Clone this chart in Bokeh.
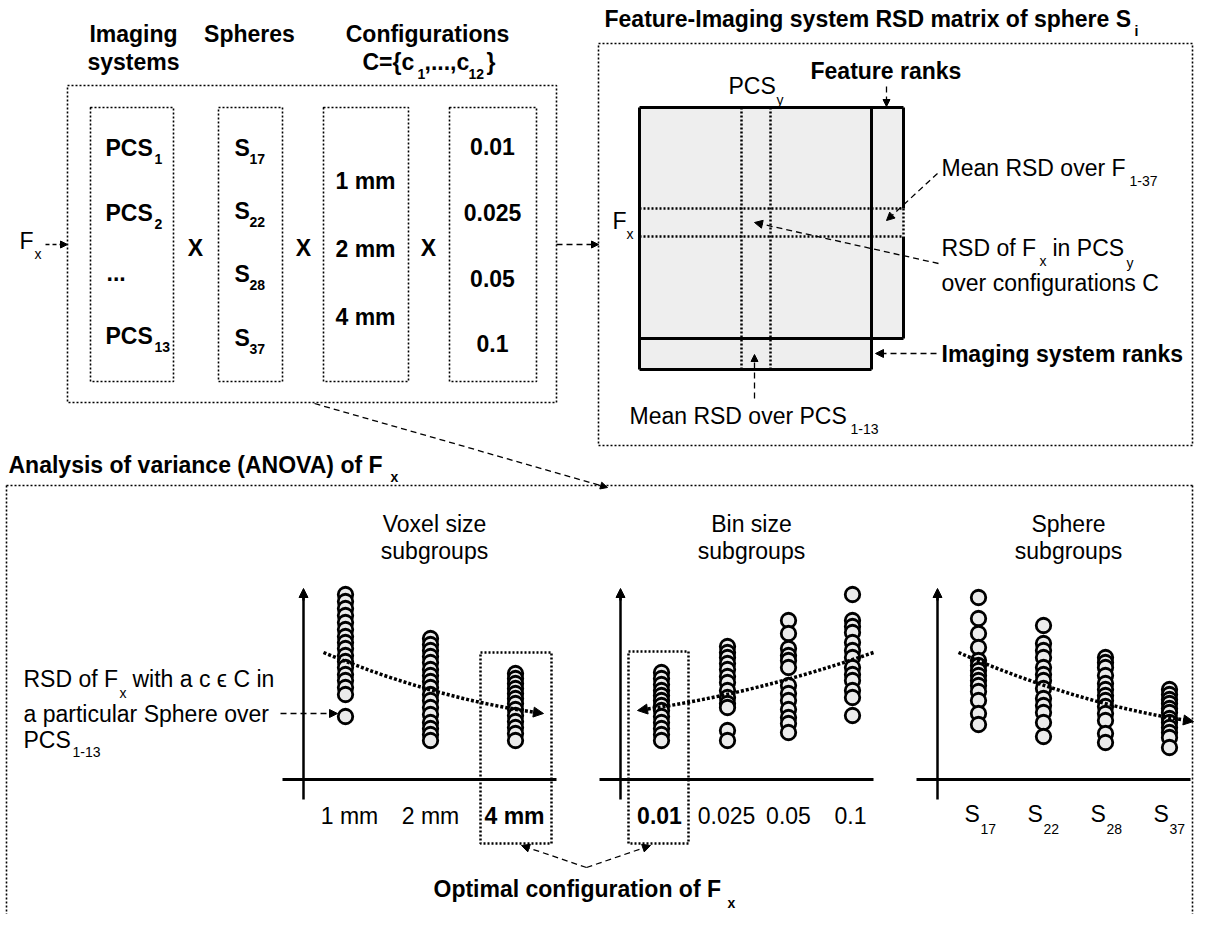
from bokeh.plotting import figure
from bokeh.models import Range1d, Arrow, NormalHead
from bokeh.core.properties import value
from bokeh.embed import file_html
from bokeh.resources import INLINE

# ---------------- data (RSD values, arbitrary % units) ----------------
voxel_labels = ["1 mm", "2 mm", "4 mm"]
voxel_1mm = [18.5, 17.8, 17.1, 16.4, 15.7, 15.0, 14.3, 13.7, 13.1, 12.4, 11.8, 11.2, 10.5, 9.9, 9.2, 8.5, 6.3]
voxel_2mm = [14.1, 13.5, 12.9, 12.3, 11.7, 11.0, 10.4, 9.8, 9.2, 8.5, 7.9, 7.2, 6.5, 5.7, 5.1, 4.5, 3.9]
voxel_4mm = [10.6, 10.1, 9.6, 9.1, 8.6, 8.1, 7.6, 7.0, 6.4, 5.8, 5.2, 4.6, 3.9]

bin_labels = ["0.01", "0.025", "0.05", "0.1"]
bin_001 = [10.7, 10.1, 9.5, 8.9, 8.4, 7.9, 7.4, 6.9, 6.3, 5.7, 5.1, 4.5, 3.9]
bin_0025 = [13.3, 12.7, 12.2, 11.6, 11.0, 10.3, 9.7, 8.9, 8.2, 7.6, 7.2, 4.9, 3.9]
bin_005 = [15.9, 14.6, 13.1, 12.4, 11.9, 11.2, 9.4, 8.6, 7.9, 7.0, 6.2, 5.6, 4.7]
bin_01 = [18.5, 15.9, 15.3, 14.7, 13.7, 12.9, 12.2, 11.2, 10.5, 9.9, 8.9, 8.2, 6.4]

sphere_labels = ["17", "22", "28", "37"]
sphere_17 = [18.2, 16.1, 14.6, 13.2, 11.9, 11.4, 10.9, 10.4, 9.9, 9.4, 8.8, 7.9, 6.6, 5.5]
sphere_22 = [15.4, 13.6, 12.9, 12.2, 11.2, 10.5, 9.9, 9.1, 8.1, 7.4, 6.7, 5.7, 4.3]
sphere_28 = [12.2, 11.7, 11.2, 10.4, 9.6, 9.0, 8.4, 7.9, 7.3, 6.6, 5.9, 4.6, 3.7]
sphere_37 = [9.0, 8.5, 8.0, 7.6, 7.1, 6.7, 6.1, 5.7, 5.2, 4.7, 4.2, 3.2]

pcs_labels = ["1", "2", "13"]
config_bins = ["0.01", "0.025", "0.05", "0.1"]
config_voxels = ["1 mm", "2 mm", "4 mm"]

# ---------------- canvas ----------------
FONT = value("Liberation Sans")
W, H = 1194, 914
p = figure(width=W, height=H, x_range=Range1d(0, W), y_range=Range1d(H, 0),
           output_backend="svg", toolbar_location=None, min_border=0,
           x_axis_location=None, y_axis_location=None)
p.grid.visible = False
p.outline_line_color = None
BASE = 779.0  # baseline of scatter panels (canvas units)
p.extra_y_ranges = {"rsd": Range1d(start=(BASE - H) / 10.0, end=BASE / 10.0)}

FS = 23   # main text size
SS = 14   # subscript size
RIGHT = 1192  # right border of the dashed frames


def T(x, y, s, size=FS, bold=False, align="left"):
    p.text(x=[x], y=[y], text=[s], text_font=FONT, text_font_size=f"{size}px",
           text_font_style="bold" if bold else "normal", text_align=align,
           text_baseline="middle", text_color="black")


def box(l, r, t, b, dash="2 2", w=1.6):
    p.quad(left=[l], right=[r], top=[t], bottom=[b], fill_color=None,
           line_color="black", line_dash=dash, line_width=w)


def seg(x0, y0, x1, y1, dash="solid", w=1.5):
    p.line(x=[x0, x1], y=[y0, y1], line_color="black", line_dash=dash, line_width=w)


def arrow(x0, y0, x1, y1, dash="6 4", w=1.3, size=9):
    p.add_layout(Arrow(end=NormalHead(size=size, fill_color="black", line_color="black", line_width=1),
                       x_start=x0, y_start=y0, x_end=x1, y_end=y1,
                       line_dash=dash, line_width=w, line_color="black"))


# ---------------- top-left: factors ----------------
T(133, 33, "Imaging", FS, True, "center")
T(133, 61, "systems", FS, True, "center")
T(249, 33, "Spheres", FS, True, "center")
T(427, 33, "Configurations", FS, True, "center")
T(362, 61, "C={c", FS, True)
T(417, 73, "1", SS, True)
T(424, 61, ",...,c", FS, True)
T(468, 73, "12", SS, True)
T(486, 61, "}", FS, True)

box(67, 556, 85, 402)
box(90, 173, 107, 381)
box(218, 282, 107, 381)
box(323, 408, 107, 381)
box(449, 536, 107, 381)

pcs_y = [147, 212, 335]
for lab, y in zip(pcs_labels, pcs_y):
    T(105, y, "PCS", FS, True)
    T(154, y + 11, lab, SS, True)
T(106, 272, "...", FS, True)

sph_y = [147, 210, 273, 337]
for lab, y in zip(sphere_labels, sph_y):
    T(234, y, "S", FS, True)
    T(249, y + 11, lab, SS, True)

for lab, y in zip(config_voxels, [180, 248, 316]):
    T(365, y, lab, FS, True, "center")
for lab, y in zip(config_bins, [146, 212, 278, 343]):
    T(492, y, lab, FS, True, "center")

for x in [195, 303, 428]:
    T(x, 247, "X", FS, True, "center")

T(19, 240, "F", FS)
T(34, 253, "x", SS)
arrow(45, 244, 67, 244, dash="4 3", size=7)
arrow(556, 244, 598, 244, size=7)
arrow(314, 403, 607, 487, size=7)

# ---------------- top-right: matrix ----------------
T(604, 18, "Feature-Imaging system RSD matrix of sphere S", FS, True)
T(1134, 30, "i", SS, True)
box(598, RIGHT, 43, 445)

GRAY = "#eeeeee"
p.quad(left=[639], right=[871], top=[107], bottom=[338], fill_color=GRAY, line_color=None)
p.quad(left=[871], right=[903], top=[107], bottom=[338], fill_color=GRAY, line_color=None)
p.quad(left=[639], right=[871], top=[338], bottom=[369], fill_color=GRAY, line_color=None)
# dotted guides
for x in [741, 770]:
    seg(x, 107, x, 370, dash="2 2", w=2.5)
for y in [208, 236]:
    seg(639, y, 903, y, dash="2 2", w=2.5)
seg(903, 208, 903, 236, dash="2 2", w=2.5)
# thick borders
TW = 3
seg(639, 107, 903, 107, w=TW)
seg(639, 107, 639, 369, w=TW)
seg(871, 107, 871, 369, w=TW)
seg(903, 107, 903, 208, w=TW)
seg(903, 236, 903, 338, w=TW)
seg(639, 338, 903, 338, w=TW)
seg(639, 369, 871, 369, w=TW)

T(728, 85, "PCS", FS)
T(776, 99, "y", SS)
T(810, 70, "Feature ranks", FS, True)
arrow(886, 86, 886, 106, size=7)
T(612, 220, "F", FS)
T(626, 233, "x", SS)

T(941, 167, "Mean RSD over F", FS)
T(1129, 180, "1-37", SS)
arrow(937, 173, 886, 220, size=8)

T(941, 247, "RSD of F", FS)
T(1039, 260, "x", SS)
T(1052, 247, "in PCS", FS)
T(1126, 262, "y", SS)
T(941, 282, "over configurations C", FS)
arrow(938, 263, 754, 222, size=8)

T(941, 353, "Imaging system ranks", FS, True)
arrow(936, 353, 875, 353, size=8)

T(629, 415, "Mean RSD over PCS", FS)
T(850, 428, "1-13", SS)
arrow(754, 398, 754, 354, size=7)

# ---------------- bottom: ANOVA ----------------
T(8, 464, "Analysis of variance (ANOVA) of F", FS, True)
T(390, 476, "x", SS, True)
seg(6, 485, RIGHT, 485, dash="2 2", w=1.6)
seg(6, 485, 6, H + 5, dash="2 2", w=1.6)
seg(RIGHT, 485, RIGHT, H + 5, dash="2 2", w=1.6)

for cx, l1 in [(434, "Voxel size"), (751, "Bin size"), (1068, "Sphere")]:
    T(cx, 523, l1, FS, False, "center")
    T(cx, 550, "subgroups", FS, False, "center")

# axes
for ax_x, x0, x1 in [(303, 282, 556), (620, 599, 873), (937, 916, 1190)]:
    seg(x0, BASE, x1, BASE, w=3)
    p.line(x=[ax_x, ax_x], y=[799, 596], line_color="black", line_width=2.5)
    p.add_layout(Arrow(end=NormalHead(size=9, fill_color="black", line_color="black"),
                       x_start=ax_x, y_start=600, x_end=ax_x, y_end=588,
                       line_width=2.5, line_color="black"))

# optimal boxes
box(480, 551, 652, 843, dash="2 2", w=2.5)
box(628, 688, 651, 843, dash="2 2", w=2.5)

# scatter columns
groups = [
    (345, voxel_1mm), (430, voxel_2mm), (515, voxel_4mm),
    (661, bin_001), (727, bin_0025), (788, bin_005), (852, bin_01),
    (978, sphere_17), (1043, sphere_22), (1105, sphere_28), (1169, sphere_37),
]
for x, vals in groups:
    p.scatter(x=[x] * len(vals), y=vals, y_range_name="rsd", size=14.5,
              fill_color="#ebebeb", line_color="black", line_width=2.8)

# trend curves (quadratic) with arrowheads
curves = [
    ((323, 652), (433, 697.5), (543, 713)),
    ((873, 652), (755, 693), (637, 710)),
    ((958, 652), (1076, 703), (1193, 721)),
]
for (x0, y0), (cx, cy), (x1, y1) in curves:
    p.quadratic(x0=[x0], y0=[y0], x1=[x1 - (x1 - cx) * 0.06], y1=[y1 - (y1 - cy) * 0.06],
                cx=[cx], cy=[cy], line_color="black", line_dash="3 2", line_width=3.5)
    dx, dy = x1 - cx, y1 - cy
    n = (dx * dx + dy * dy) ** 0.5
    p.add_layout(Arrow(end=NormalHead(size=10, fill_color="black", line_color="black"),
                       x_start=x1 - 12 * dx / n, y_start=y1 - 12 * dy / n, x_end=x1, y_end=y1,
                       line_alpha=0))

# x labels
for lab, cx in zip(voxel_labels, [349, 430, 514]):
    T(cx, 815, lab, FS, lab == "4 mm", "center")
for lab, cx in zip(bin_labels, [659, 726, 788, 850]):
    T(cx, 815, lab, FS, lab == "0.01", "center")
for lab, sx in zip(sphere_labels, [964, 1027, 1090, 1153]):
    T(sx, 813, "S", FS)
    T(sx + 16, 828, lab, SS)

# RSD annotation
T(23, 678, "RSD of F", FS)
T(119, 692, "x", SS)
T(132, 678, "with a c \u03f5 C in", FS)
T(23, 713, "a particular Sphere over", FS)
T(23, 739, "PCS", FS)
T(72, 751, "1-13", SS)
arrow(280, 713, 337, 713, size=8)

# optimal configuration
arrow(586, 867, 521, 845, size=8)
arrow(586, 867, 650, 845, size=8)
T(433, 888, "Optimal configuration of F", FS, True)
T(727, 902, "x", SS, True)

open("out.html", "w").write(file_html(p, INLINE))
